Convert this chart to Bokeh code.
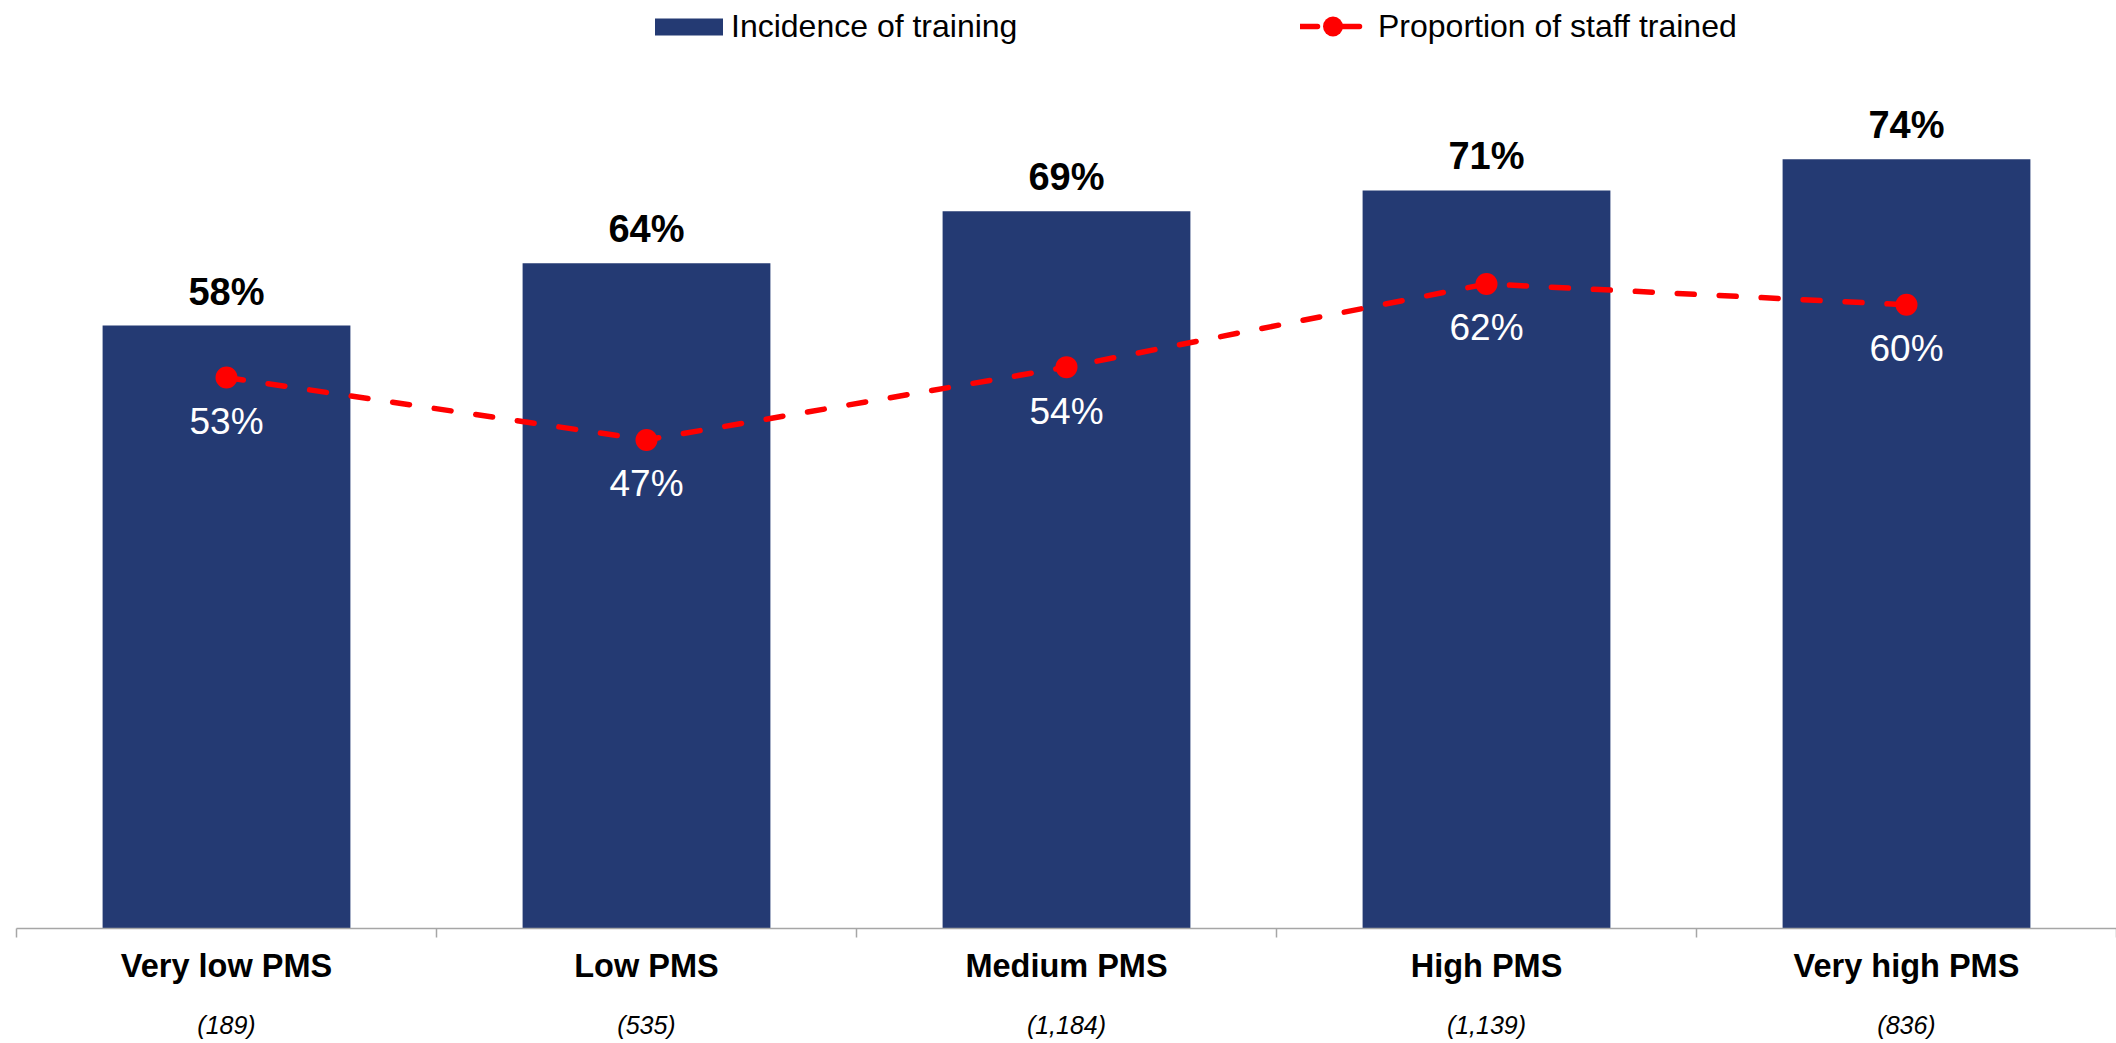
from bokeh.plotting import figure
from bokeh.models import (ColumnDataSource, Range1d, LinearAxis, FixedTicker, Legend, LegendItem)
from bokeh.core.properties import value
from bokeh.embed import file_html
from bokeh.resources import INLINE

# ---- data ----
categories = ["Very low PMS", "Low PMS", "Medium PMS", "High PMS", "Very high PMS"]
base_counts = ["(189)", "(535)", "(1,184)", "(1,139)", "(836)"]
incidence = [58, 64, 69, 71, 74]
proportion = [53, 47, 54, 62, 60]
series_names = ["Incidence of training", "Proportion of staff trained"]

FONT = "Liberation Sans"
BAR = "#243A73"
RED = "#FF0000"
AXIS = "#A6A6A6"

n = len(categories)
xpos = [i + 0.5 for i in range(n)]          # category centres on a 0..n axis
bounds = list(range(n + 1))                 # category boundaries

src = ColumnDataSource(dict(
    x=xpos, cat=categories, inc=incidence, prop=proportion,
    inc_lbl=[f"{v}%" for v in incidence],
    prop_lbl=[f"{v}%" for v in proportion],
))

p = figure(x_range=Range1d(0, n), y_range=Range1d(0, 88.5),
           frame_width=2100, frame_height=920,
           output_backend="svg", toolbar_location=None,
           x_axis_location=None, y_axis_location=None,
           min_border_left=16, min_border_right=0, min_border_top=8, min_border_bottom=0)
p.outline_line_color = None
p.grid.visible = False
p.background_fill_color = "white"

# category names, axis line and boundary ticks (as minor ticks)
cat_axis = LinearAxis(ticker=FixedTicker(ticks=xpos, minor_ticks=bounds),
                      major_label_overrides={x: c for x, c in zip(xpos, categories)},
                      axis_line_color=AXIS, axis_line_width=1.5,
                      major_tick_line_color=None, major_tick_in=0, major_tick_out=9,
                      minor_tick_line_color=AXIS, minor_tick_line_width=1.5,
                      minor_tick_in=0, minor_tick_out=9,
                      major_label_text_font=FONT, major_label_text_font_style="bold",
                      major_label_text_font_size="32.5px", major_label_text_color="black",
                      major_label_standoff=10)
p.add_layout(cat_axis, "below")

# base sizes
cnt_axis = LinearAxis(ticker=FixedTicker(ticks=xpos),
                      major_label_overrides={x: c for x, c in zip(xpos, base_counts)},
                      axis_line_color=None, major_tick_line_color=None, minor_tick_line_color=None,
                      major_tick_in=0, major_tick_out=0, minor_tick_in=0, minor_tick_out=0,
                      major_label_text_font=FONT, major_label_text_font_style="italic",
                      major_label_text_font_size="25px", major_label_text_color="black",
                      major_label_standoff=24)
p.add_layout(cnt_axis, "below")

bars = p.vbar(x="x", top="inc", width=0.59, source=src, fill_color=BAR, line_color=None)
line = p.line(x="x", y="prop", source=src, line_color=RED, line_width=5.5,
              line_dash="17 25", line_cap="round")
dots = p.scatter(x="x", y="prop", source=src, size=22, fill_color=RED, line_color=None)

p.text(x="x", y="inc", text="inc_lbl", source=src, text_align="center",
       text_baseline="alphabetic", y_offset=-34, text_font=value(FONT),
       text_font_style="bold", text_font_size="38px", text_color="black")
p.text(x="x", y="prop", text="prop_lbl", source=src, text_align="center",
       text_baseline="alphabetic", y_offset=44, text_font=value(FONT),
       text_font_size="37px", text_color="white")

common = dict(orientation="horizontal", label_text_font=FONT, label_text_font_size="32px",
              label_text_color="black", padding=0, margin=0, border_line_color=None,
              background_fill_alpha=0)
legend_bar = Legend(items=[LegendItem(label=series_names[0], renderers=[bars])],
                    location=(630, 883), glyph_width=85, glyph_height=21,
                    label_standoff=0, **common)
legend_line = Legend(items=[LegendItem(label=series_names[1], renderers=[line, dots])],
                     location=(1284, 877), glyph_width=65, glyph_height=50,
                     label_standoff=13, **common)
p.add_layout(legend_bar, "center")
p.add_layout(legend_line, "center")

open("out.html", "w").write(file_html(p, INLINE))
